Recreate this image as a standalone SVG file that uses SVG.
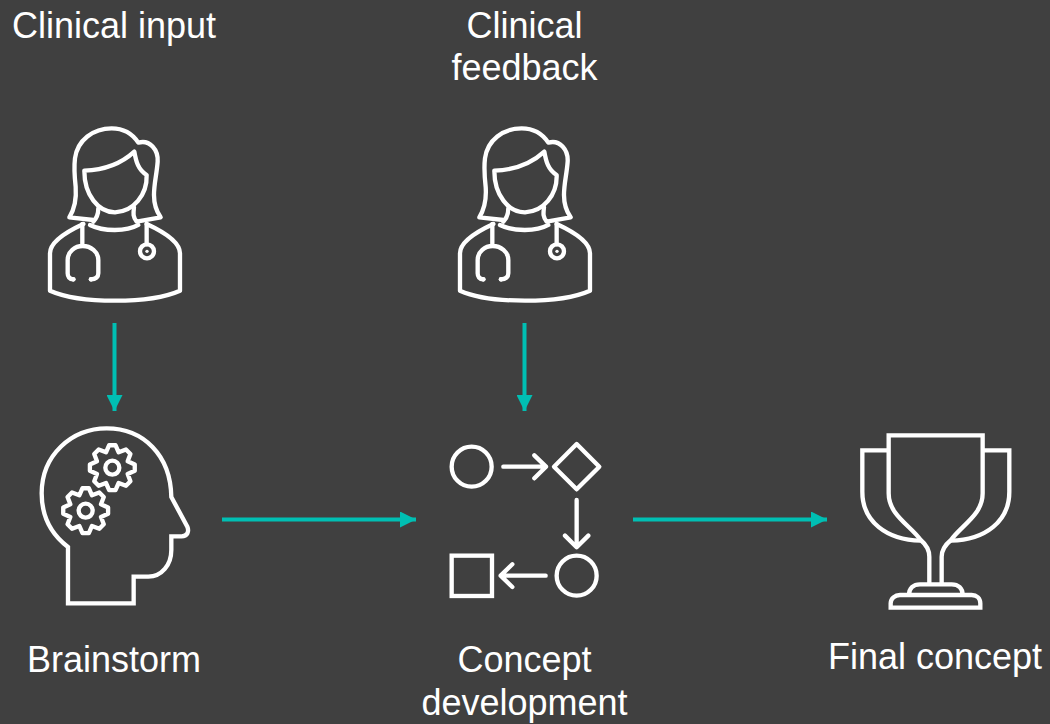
<svg xmlns="http://www.w3.org/2000/svg" width="1050" height="724" viewBox="0 0 1050 724">
<style>
text{font-family:"Liberation Sans",Arial,sans-serif;font-size:36px;fill:#fff;text-anchor:middle}
.i{fill:none;stroke:#fff;stroke-width:13;stroke-linecap:round;stroke-linejoin:round}
.m{fill:none;stroke:#fff;stroke-width:13;stroke-linejoin:miter;stroke-linecap:butt}
.c{stroke:#00bfb3;stroke-width:4;fill:none}
.h{fill:#00bfb3}
</style>
<defs>
<g id="doc">
<path class="i" d="M190 300L118 292C135 265 140 240 137 200C133 165 132 140 135 115C142 60 190 25 245 25C285 25 310 45 325 68C360 58 385 90 383 125C380 165 372 190 372 225C372 250 380 275 392 292L320 305C308 290 310 280 312 262"/>
<path class="i" d="M163 152C225 150 275 130 313 95C318 125 325 150 350 165C352 225 310 275 255 277C205 277 163 225 163 152Z"/>
<path class="i" d="M205 265C205 280 200 295 190 305"/>
<path class="i" d="M160 312C110 335 60 365 60 400L60 512C150 552 360 552 450 512L450 400C450 365 400 335 350 312"/>
<path class="i" d="M180 315C220 335 290 335 325 315"/>
<path class="i" d="M157 312L157 378M130 478C118 478 113 470 113 460L113 420C113 395 135 378 158 378C182 378 205 395 205 420L205 460C205 470 198 478 183 478"/>
<path class="i" d="M350 312L350 372"/>
<circle class="i" cx="351" cy="394" r="21"/>
<circle cx="351" cy="394" r="5" fill="#fff"/>
<circle cx="130" cy="478" r="7" fill="#fff"/>
<circle cx="183" cy="478" r="7" fill="#fff"/>
</g>
<path id="gear" class="i" d="M-9.500-67.300L9.500-67.300L19-46L40.900-54.300L54.300-40.900L46-19L67.300-9.500L67.300 9.500L46 19L54.300 40.900L40.900 54.300L19 46L9.500 67.300L-9.500 67.300L-19 46L-40.900 54.300L-54.300 40.900L-46 19L-67.300 9.500L-67.300-9.500L-46-19L-54.300-40.900L-40.900-54.300L-19-46Z"/>
<marker id="a" markerUnits="userSpaceOnUse" markerWidth="16" markerHeight="16" refX="16" refY="8" orient="auto"><path class="h" d="M0 0L16 8L0 16Z"/></marker>
</defs>
<rect width="1050" height="724" fill="#404040"/>
<g id="connectors">
<path class="c" marker-end="url(#a)" d="M114.500 323V411"/>
<path class="c" marker-end="url(#a)" d="M524.500 323V411"/>
<path class="c" marker-end="url(#a)" d="M222 519.500H416"/>
<path class="c" marker-end="url(#a)" d="M633 519.500H827"/>
</g>
<g id="clinical-input"><text x="114" y="38">Clinical input</text><use href="#doc" transform="translate(30 120) scale(.3333)"/></g>
<g id="clinical-feedback"><text x="524.500" y="38">Clinical</text><text x="524.500" y="80">feedback</text><use href="#doc" transform="translate(440 120) scale(.3333)"/></g>
<g id="brainstorm"><text x="114" y="672">Brainstorm</text>
<g transform="translate(30 425) scale(.3333)">
<path class="m" d="M114 535L114 366C60 325 35 270 35 205C35 90 125 10 230 10C340 10 422 90 424 216L472 305C478 320 472 334 455 334L424 334L424 375C424 420 395 455 355 455L311 455L311 535Z"/>
<use href="#gear" transform="translate(247 128)"/><circle class="i" cx="247" cy="128" r="21"/>
<use href="#gear" transform="translate(167 257)"/><circle class="i" cx="167" cy="257" r="21"/>
</g></g>
<g id="concept-development"><text x="524.500" y="672">Concept</text><text x="524.500" y="715">development</text>
<g transform="translate(440 430) scale(.3333)">
<circle class="i" cx="95" cy="110" r="60"/>
<path class="i" d="M190 110H315M283 76L318 110L283 145"/>
<path class="i" d="M410 42L478 110L410 178L342 110Z"/>
<path class="i" d="M410 210V345M375 317L410 352L445 317"/>
<circle class="i" cx="410" cy="437" r="60"/>
<path class="i" d="M317 437H185M217 403L182 437L217 471"/>
<rect class="m" x="35" y="377" width="121" height="121"/>
</g></g>
<g id="final-concept"><text x="935" y="669">Final concept</text>
<g transform="translate(850 425) scale(.3333)">
<path class="m" d="M238 478V395C238 380 230 360 212 345C180 300 116 270 116 205V31H398V205C398 270 335 300 303 345C285 360 275 380 275 395V478"/>
<path class="m" d="M116 76H37V200C37 290 110 345 212 347M398 76H478V200C478 290 405 345 303 347"/>
<path class="m" d="M177 510C177 490 190 478 210 478H305C325 478 338 490 338 510"/>
<path class="m" d="M122 548V535C122 520 135 510 150 510H365C380 510 391 520 391 535V548Z"/>
</g></g>
</svg>
